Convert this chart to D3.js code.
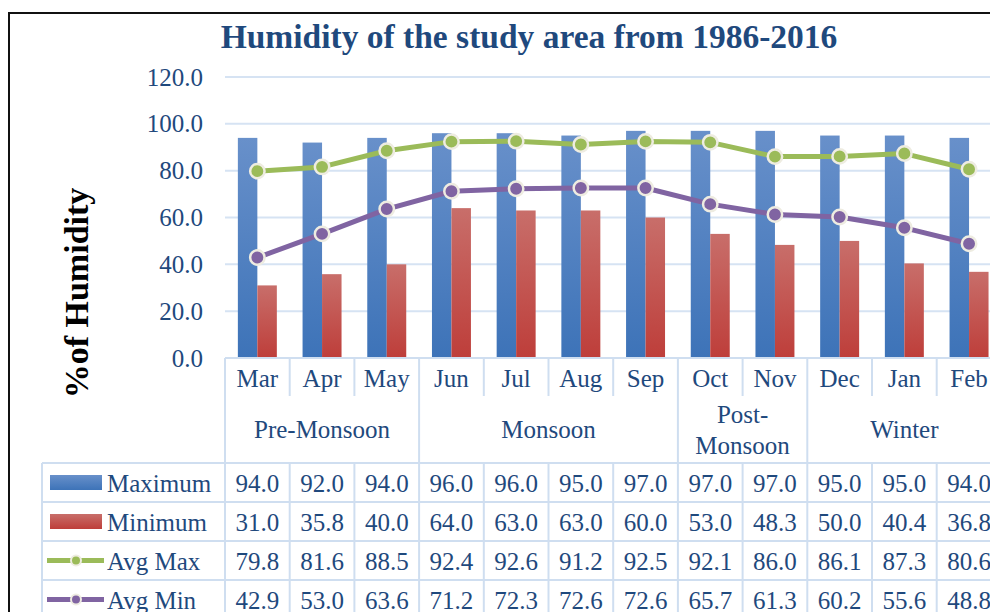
<!DOCTYPE html>
<html>
<head>
<meta charset="utf-8">
<script src="https://cdn.jsdelivr.net/npm/d3@7"></script>
<style>
  html, body { margin: 0; padding: 0; background: #fff; }
  svg { display: block; }
  text { font-family: "Liberation Serif", "Times New Roman", serif; }
</style>
</head>
<body>
<svg id="chart" width="990" height="612"></svg>
<script>
// Monthly humidity, 1986-2016
const months = ["Mar", "Apr", "May", "Jun", "Jul", "Aug", "Sep", "Oct", "Nov", "Dec", "Jan", "Feb"];
const seasons = [
  { name: ["Pre-Monsoon"], from: "Mar", to: "May" },
  { name: ["Monsoon"], from: "Jun", to: "Sep" },
  { name: ["Post-", "Monsoon"], from: "Oct", to: "Nov" },
  { name: ["Winter"], from: "Dec", to: "Feb" }
];
const maximum = [94.0, 92.0, 94.0, 96.0, 96.0, 95.0, 97.0, 97.0, 97.0, 95.0, 95.0, 94.0];
const minimum = [31.0, 35.8, 40.0, 64.0, 63.0, 63.0, 60.0, 53.0, 48.3, 50.0, 40.4, 36.8];
const avgMax  = [79.8, 81.6, 88.5, 92.4, 92.6, 91.2, 92.5, 92.1, 86.0, 86.1, 87.3, 80.6];
const avgMin  = [42.9, 53.0, 63.6, 71.2, 72.3, 72.6, 72.6, 65.7, 61.3, 60.2, 55.6, 48.8];
const yTicks  = [0, 20, 40, 60, 80, 100, 120];

const series = [
  { name: "Maximum", type: "bar", values: maximum, grad: "gradBlue" },
  { name: "Minimum", type: "bar", values: minimum, grad: "gradRed" },
  { name: "Avg Max", type: "line", values: avgMax, color: "#9bbb59" },
  { name: "Avg Min", type: "line", values: avgMin, color: "#8064a2" }
];

const textBlue = "#1f497d";
const gridCol = "#d6e3f3";
const tableCol = "#cfdef0";
const svg = d3.select("#chart");

// gradients for the bar fills
const defs = svg.append("defs");
function grad(id, top, bottom) {
  const g = defs.append("linearGradient").attr("id", id)
    .attr("x1", 0).attr("y1", 0).attr("x2", 0).attr("y2", 1);
  g.append("stop").attr("offset", "0%").attr("stop-color", top);
  g.append("stop").attr("offset", "100%").attr("stop-color", bottom);
}
grad("gradBlue", "#6890ca", "#3d73b8");
grad("gradRed", "#c86e6a", "#be3e3a");

// scales
const plotLeft = 225, bandW = 64.7;
const x = d3.scaleBand().domain(months).range([plotLeft, plotLeft + bandW * months.length]).padding(0);
const xSub = d3.scaleBand().domain(["Maximum", "Minimum"]).range([0, x.bandwidth()])
  .paddingInner(0).paddingOuter(0.66);
const y = d3.scaleLinear().domain([0, 120]).range([358, 77]);

// outer frame
svg.append("path").attr("d", "M9,613 L9,13 L991,13")
  .attr("fill", "none").attr("stroke", "#111").attr("stroke-width", 2);

// title
svg.append("text").attr("x", 529).attr("y", 48).attr("text-anchor", "middle")
  .attr("font-size", 33.5).attr("font-weight", "bold").attr("fill", textBlue)
  .text("Humidity of the study area from 1986-2016");

// gridlines
svg.append("g").selectAll("line").data(yTicks.filter(d => d > 0)).join("line")
  .attr("x1", plotLeft).attr("x2", 995)
  .attr("y1", d => y(d)).attr("y2", d => y(d))
  .attr("stroke", gridCol).attr("stroke-width", 2);

// y axis labels
const yAxis = d3.axisLeft(y).tickValues(yTicks).tickFormat(d3.format(".1f")).tickSize(0).tickPadding(0);
const yG = svg.append("g").attr("transform", "translate(203,0)").call(yAxis);
yG.select(".domain").remove();
yG.selectAll("text").attr("font-size", 25).attr("fill", textBlue)
  .style("font-family", "'Liberation Serif', serif");

// y axis title
svg.append("text").attr("transform", "translate(88,293) rotate(-90)")
  .attr("text-anchor", "middle").attr("font-size", 34).attr("font-weight", "bold")
  .attr("fill", "#000").text("%of Humidity");

// bars
series.filter(s => s.type === "bar").forEach(s => {
  svg.append("g").selectAll("rect").data(s.values).join("rect")
    .attr("x", (d, i) => x(months[i]) + xSub(s.name))
    .attr("width", xSub.bandwidth())
    .attr("y", d => y(d))
    .attr("height", d => y(0) - y(d))
    .attr("fill", `url(#${s.grad})`);
});

// lines with markers
series.filter(s => s.type === "line").forEach(s => {
  const line = d3.line().x((d, i) => x(months[i]) + x.bandwidth() / 2).y(d => y(d));
  svg.append("path").datum(s.values).attr("d", line)
    .attr("fill", "none").attr("stroke", s.color).attr("stroke-width", 5)
    .attr("stroke-linejoin", "round");
  svg.append("g").selectAll("circle").data(s.values).join("circle")
    .attr("cx", (d, i) => x(months[i]) + x.bandwidth() / 2)
    .attr("cy", d => y(d)).attr("r", 7.2)
    .attr("fill", s.color).attr("stroke", "#eeece1").attr("stroke-width", 2.5);
});

// data table below the plot
const tableTop = 358, monthRowB = 396, seasonRowB = 463, rowH = 39, legendLeft = 42;
const tableRight = 995;
const tbl = svg.append("g");
const hline = (x1, x2, yy) => tbl.append("line").attr("x1", x1).attr("x2", x2).attr("y1", yy).attr("y2", yy)
  .attr("stroke", tableCol).attr("stroke-width", 2);
const vline = (xx, y1, y2) => tbl.append("line").attr("x1", xx).attr("x2", xx).attr("y1", y1).attr("y2", y2)
  .attr("stroke", tableCol).attr("stroke-width", 2);

hline(plotLeft, tableRight, tableTop);
series.forEach((s, i) => hline(legendLeft, tableRight, seasonRowB + rowH * i));
vline(legendLeft, seasonRowB, 615);
// month separators: short in the month row, full in the value rows
months.forEach((m, i) => {
  const xx = x(m);
  const isGroupEdge = seasons.some(g => g.from === m);
  vline(xx, tableTop, isGroupEdge ? 615 : monthRowB);
  if (!isGroupEdge) vline(xx, seasonRowB, 615);
});

// month labels
tbl.selectAll("text.month").data(months).join("text").attr("class", "month")
  .attr("x", d => x(d) + x.bandwidth() / 2).attr("y", 387)
  .attr("text-anchor", "middle").attr("font-size", 25).attr("fill", textBlue).text(d => d);

// season labels
seasons.forEach(g => {
  const x0 = x(g.from), x1 = x(g.to) + x.bandwidth();
  const cx = (x0 + x1) / 2;
  const n = g.name.length;
  g.name.forEach((t, j) => {
    tbl.append("text").attr("x", cx).attr("y", 438 + (j - (n - 1) / 2) * 31)
      .attr("text-anchor", "middle").attr("font-size", 25).attr("fill", textBlue).text(t);
  });
});

// value rows with legend keys
series.forEach((s, i) => {
  const top = seasonRowB + rowH * i, mid = top + rowH / 2;
  if (s.type === "bar") {
    tbl.append("rect").attr("x", 50).attr("y", mid - 7.5).attr("width", 52).attr("height", 15)
      .attr("fill", `url(#${s.grad})`);
  } else {
    tbl.append("line").attr("x1", 47).attr("x2", 104).attr("y1", mid).attr("y2", mid)
      .attr("stroke", s.color).attr("stroke-width", 5);
    tbl.append("circle").attr("cx", 76).attr("cy", mid).attr("r", 5)
      .attr("fill", s.color).attr("stroke", "#eeece1").attr("stroke-width", 2);
  }
  tbl.append("text").attr("x", 107).attr("y", mid + 9).attr("font-size", 25).attr("fill", textBlue).text(s.name);
  tbl.selectAll(null).data(s.values).join("text")
    .attr("x", (d, k) => x(months[k]) + x.bandwidth() / 2).attr("y", mid + 9)
    .attr("text-anchor", "middle").attr("font-size", 25).attr("fill", textBlue)
    .text(d => d3.format(".1f")(d));
});
</script>
</body>
</html>
